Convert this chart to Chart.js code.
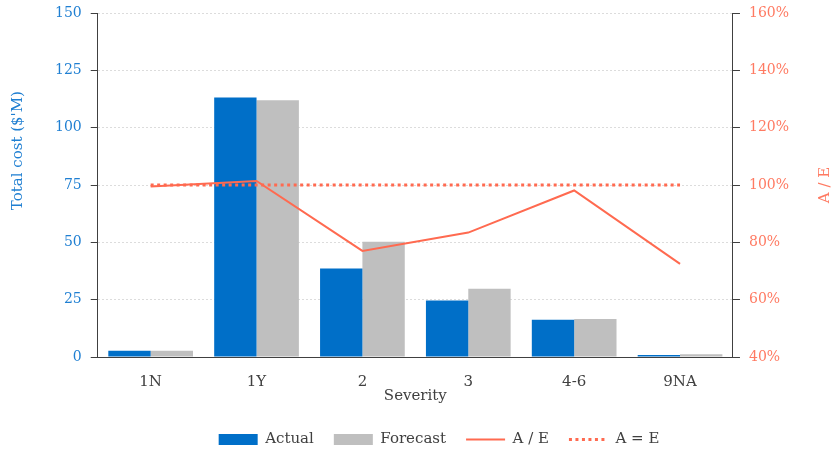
<!DOCTYPE html>
<html>
<head>
<meta charset="utf-8">
<script src="https://cdn.jsdelivr.net/npm/chart.js@4/dist/chart.umd.min.js"></script>
<style>
  html, body { margin: 0; padding: 0; background: #fff; }
  #wrap { width: 832px; height: 452px; }
</style>
</head>
<body>
<div id="wrap"><canvas id="c" width="832" height="452"></canvas></div>
<script>
// Severity bands
const categories = ['1N', '1Y', '2', '3', '4-6', '9NA'];
// Total cost, $'M
const actual = [2.7, 113.2, 38.6, 24.6, 16.2, 0.9];
const forecast = [2.7, 112.0, 50.3, 29.8, 16.6, 1.25];
// Actual over expected, %
const aOverE = [99.5, 101.4, 77.0, 83.4, 98.1, 72.5];
const aEqualsE = [100, 100, 100, 100, 100, 100];
// Axis tick ranges
const costTicks = { min: 0, max: 150, step: 25 };
const ratioTicks = { min: 40, max: 160, step: 20 };

const BLUE = '#006fc8';
const GREY = '#bfbfbf';
const RED = '#ff6a50';
const BLUE_TEXT = '#1f7fd2';
const RED_TEXT = '#ff7a62';
const DARK = '#404040';
const FONT = '"DejaVu Serif", "Liberation Serif", serif';

// Both axis titles read bottom-to-top, drawn beside their scales
const sideTitles = {
  id: 'sideTitles',
  afterDraw(chart) {
    const { ctx, chartArea } = chart;
    const y1 = chart.scales.y;
    ctx.save();
    ctx.font = '15px ' + FONT;
    ctx.textAlign = 'center';
    ctx.textBaseline = 'middle';
    ctx.fillStyle = BLUE_TEXT;
    ctx.translate(18, y1.top + (y1.bottom - y1.top) * 0.4);
    ctx.rotate(-Math.PI / 2);
    ctx.fillText("Total cost ($'M)", 0, 0);
    ctx.restore();

    ctx.save();
    ctx.font = '15px ' + FONT;
    ctx.textAlign = 'center';
    ctx.textBaseline = 'middle';
    ctx.fillStyle = RED_TEXT;
    ctx.translate(chart.width - 7, (chartArea.top + chartArea.bottom) / 2);
    ctx.rotate(-Math.PI / 2);
    ctx.fillText('A / E', 0, 0);
    ctx.restore();
  }
};

// The legend row sits a little right of the canvas centre
const legendShift = {
  id: 'legendShift',
  afterLayout(chart) {
    const lg = chart.legend;
    if (lg) { lg.left += 17; lg.right += 17; }
  }
};

// Legend samples for the lines use the dataset stroke, not the point style
function legendLabels(chart) {
  const items = Chart.defaults.plugins.legend.labels.generateLabels(chart);
  items.forEach(item => {
    const ds = chart.data.datasets[item.datasetIndex];
    if (ds.type === 'line') {
      item.lineWidth = ds.borderWidth;
      item.lineDash = ds.borderDash || [];
      item.strokeStyle = ds.borderColor;
    }
  });
  return items;
}

// Keep the top tick close to the canvas edge
const tightTop = scale => { scale.paddingTop = 13; };

new Chart(document.getElementById('c'), {
  type: 'bar',
  data: {
    labels: categories,
    datasets: [
      { label: 'Actual', data: actual, backgroundColor: BLUE, borderWidth: 0,
        yAxisID: 'y', order: 2, pointStyle: 'rect',
        categoryPercentage: 0.8, barPercentage: 1.0 },
      { label: 'Forecast', data: forecast, backgroundColor: GREY, borderWidth: 0,
        yAxisID: 'y', order: 2, pointStyle: 'rect',
        categoryPercentage: 0.8, barPercentage: 1.0 },
      { type: 'line', label: 'A / E', data: aOverE, borderColor: RED, backgroundColor: RED,
        borderWidth: 2, pointRadius: 0, pointStyle: 'line', yAxisID: 'y1', order: 1,
        tension: 0 },
      { type: 'line', label: 'A = E', data: aEqualsE, borderColor: RED, backgroundColor: RED,
        borderWidth: 3, borderDash: [3, 3.5], pointRadius: 0, pointStyle: 'line',
        yAxisID: 'y1', order: 1 }
    ]
  },
  options: {
    responsive: false,
    animation: false,
    devicePixelRatio: 1,
    layout: { padding: { left: 46, right: 34, top: 0, bottom: -5 } },
    font: { family: FONT },
    plugins: {
      tooltip: { enabled: false },
      legend: {
        position: 'bottom',
        labels: {
          usePointStyle: true,
          pointStyleWidth: 39,
          boxHeight: 11,
          padding: 20,
          color: DARK,
          font: { family: FONT, size: 15 },
          generateLabels: legendLabels,
          sort: (a, b) => a.datasetIndex - b.datasetIndex
        }
      }
    },
    scales: {
      x: {
        grid: { display: false, drawTicks: false },
        border: { color: DARK, width: 1 },
        ticks: { color: DARK, font: { family: FONT, size: 15 }, padding: 16 },
        title: { display: true, text: 'Severity', color: DARK,
                 font: { family: FONT, size: 15 }, padding: { top: -20, bottom: 7 } }
      },
      y: {
        position: 'left',
        min: costTicks.min, max: costTicks.max,
        afterFit: tightTop,
        ticks: { stepSize: costTicks.step, color: BLUE_TEXT, padding: 9,
                 font: { family: FONT, size: 14 } },
        grid: { color: '#dcdcdc', tickColor: DARK, tickLength: 7 },
        border: { color: DARK, width: 1, dash: [2, 2] }
      },
      y1: {
        position: 'right',
        min: ratioTicks.min, max: ratioTicks.max,
        afterFit: tightTop,
        ticks: { stepSize: ratioTicks.step, color: RED_TEXT, padding: 9,
                 font: { family: FONT, size: 14 }, callback: v => v + '%' },
        grid: { drawOnChartArea: false, tickColor: DARK, tickLength: 7 },
        border: { color: DARK, width: 1 }
      }
    }
  },
  plugins: [sideTitles, legendShift]
});
</script>
</body>
</html>
